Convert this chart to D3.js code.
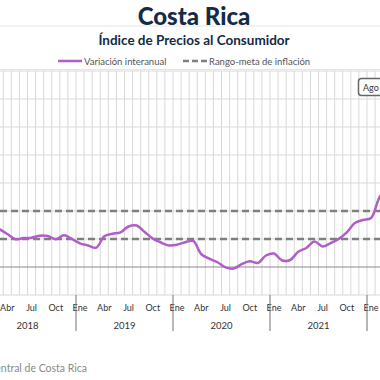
<!DOCTYPE html>
<html>
<head>
<meta charset="utf-8">
<script src="https://cdn.jsdelivr.net/npm/d3@7"></script>
<style>
  html, body { margin: 0; padding: 0; background: #fff; overflow: hidden; }
  svg { display: block; font-family: Lato, "Open Sans", sans-serif; }
</style>
</head>
<body>
<svg id="chart" width="380" height="380"></svg>
<script>
// ---- data ----
const monthNames = ["Ene","Feb","Mar","Abr","May","Jun","Jul","Ago","Sep","Oct","Nov","Dic"];
const years = [2018, 2019, 2020, 2021, 2022];
const tickMonths = ["Ene","Abr","Jul","Oct"];
const periods = [
  "Mar 2018","Abr 2018","May 2018","Jun 2018","Jul 2018","Ago 2018","Sep 2018","Oct 2018","Nov 2018","Dic 2018",
  "Ene 2019","Feb 2019","Mar 2019","Abr 2019","May 2019","Jun 2019","Jul 2019","Ago 2019","Sep 2019","Oct 2019","Nov 2019","Dic 2019",
  "Ene 2020","Feb 2020","Mar 2020","Abr 2020","May 2020","Jun 2020","Jul 2020","Ago 2020","Sep 2020","Oct 2020","Nov 2020","Dic 2020",
  "Ene 2021","Feb 2021","Mar 2021","Abr 2021","May 2021","Jun 2021","Jul 2021","Ago 2021","Sep 2021","Oct 2021","Nov 2021","Dic 2021",
  "Ene 2022","Feb 2022","Mar 2022"
];
const variacion = [
  2.71, 2.36, 1.98, 2.07, 2.09, 2.23, 2.21, 1.98, 2.26, 2.00,
  1.69, 1.54, 1.38, 2.19, 2.37, 2.48, 2.89, 2.96, 2.50, 2.03, 1.75, 1.54,
  1.59, 1.77, 1.86, 0.91, 0.59, 0.34, -0.03, -0.11, 0.20, 0.41, 0.29, 0.82,
  0.96, 0.46, 0.50, 1.09, 1.36, 1.82, 1.47, 1.70, 2.01, 2.48, 3.14, 3.36,
  3.50, 4.93, 5.77
];
const rangoMeta = [2, 4];
const yTicks = [-2, 0, 2, 4, 6, 8, 10, 12, 14];

// ---- layout ----
const svg = d3.select("#chart");
const allMonths = [];
years.forEach(y => monthNames.forEach(m => allMonths.push(m + " " + y)));
const monthW = 97 / 12;
const x = d3.scaleBand().domain(allMonths).range([-21, -21 + monthW * allMonths.length]).padding(0);
const y = d3.scaleLinear().domain([-2, 14]).range([295, 71]);
const cx = d => x(d) + x.bandwidth() / 2;
const visible = (px, half) => px + half > 0 && px - half < 380;

// separators
svg.append("line").attr("x1", 0).attr("x2", 380).attr("y1", 26).attr("y2", 26).attr("stroke", "#e6e6e6").attr("stroke-width", 1);
svg.append("line").attr("x1", 0).attr("x2", 380).attr("y1", 69.5).attr("y2", 69.5).attr("stroke", "#e6e6e6").attr("stroke-width", 1);

// title
svg.append("text").attr("x", 194).attr("y", 25).attr("text-anchor", "middle")
  .attr("font-size", 24).attr("font-weight", 900).attr("fill", "#142a46").text("Costa Rica");
svg.append("text").attr("x", 194).attr("y", 45).attr("text-anchor", "middle")
  .attr("font-size", 13.5).attr("font-weight", 700).attr("fill", "#142a46").text("Índice de Precios al Consumidor");

// legend
const lg = svg.append("g").attr("font-size", 9.5).attr("fill", "#555");
lg.append("line").attr("x1", 58).attr("x2", 82).attr("y1", 61).attr("y2", 61).attr("stroke", "#b05ec8").attr("stroke-width", 2.5);
lg.append("text").attr("x", 84).attr("y", 64.5).text("Variación interanual");
lg.append("line").attr("x1", 183).attr("x2", 207).attr("y1", 61).attr("y2", 61).attr("stroke", "#808080").attr("stroke-width", 2.5).attr("stroke-dasharray", "6,3");
lg.append("text").attr("x", 209).attr("y", 64.5).text("Rango-meta de inflación");

// vertical grid (month boundaries)
const grid = svg.append("g");
grid.selectAll("line.v").data(allMonths).join("line").attr("class", "v")
  .attr("x1", d => x(d)).attr("x2", d => x(d)).attr("y1", y(14)).attr("y2", y(-2))
  .attr("stroke", "#d9d9d9").attr("stroke-width", 1);
// horizontal grid
grid.selectAll("line.h").data(yTicks.filter(t => t !== 0)).join("line").attr("class", "h")
  .attr("x1", 0).attr("x2", 380).attr("y1", d => y(d)).attr("y2", d => y(d))
  .attr("stroke", "#d9d9d9").attr("stroke-width", 1);
// zero line
svg.append("line").attr("x1", 0).attr("x2", 380).attr("y1", y(0)).attr("y2", y(0))
  .attr("stroke", "#8c8c8c").attr("stroke-width", 1);

// target range dashed lines
svg.selectAll("line.meta").data(rangoMeta).join("line").attr("class", "meta")
  .attr("x1", 0).attr("x2", 380).attr("y1", d => y(d)).attr("y2", d => y(d))
  .attr("stroke", "#7f7f7f").attr("stroke-width", 2.5).attr("stroke-dasharray", "7,4");

// series line
const line = d3.line().x((d, i) => cx(periods[i])).y(d => y(d)).curve(d3.curveCatmullRom.alpha(0.5));
svg.append("path").datum(variacion).attr("d", line)
  .attr("fill", "none").attr("stroke", "#b05ec8").attr("stroke-width", 2.5).attr("stroke-linejoin", "round");

// x axis: month labels (only those that fall in view)
const tickData = allMonths.filter(d => tickMonths.includes(d.split(" ")[0]) && visible(cx(d), 8));
svg.append("g").attr("font-size", 9).attr("fill", "#333").attr("text-anchor", "middle")
  .selectAll("text").data(tickData).join("text")
  .attr("x", d => cx(d)).attr("y", 310.5).text(d => d.split(" ")[0]);
// year separators
svg.selectAll("line.ysep").data(years).join("line").attr("class", "ysep")
  .attr("x1", d => x("Ene " + d)).attr("x2", d => x("Ene " + d)).attr("y1", 295).attr("y2", 331)
  .attr("stroke", "#707070").attr("stroke-width", 1);
// year labels
svg.append("g").attr("font-size", 9.5).attr("fill", "#333").attr("text-anchor", "middle")
  .selectAll("text").data(years.filter(d => visible(x("Ene " + d) + monthW * 6, 12))).join("text")
  .attr("x", d => x("Ene " + d) + monthW * 6).attr("y", 329).text(d => d);

// tooltip-like box at top right
svg.append("rect").attr("x", 358.5).attr("y", 78.5).attr("width", 60).attr("height", 17).attr("rx", 3)
  .attr("fill", "#fff").attr("stroke", "#666").attr("stroke-width", 1.5);
svg.append("text").attr("x", 363).attr("y", 90.5).attr("font-size", 9).attr("fill", "#333").text("Ago 2022");

// source
svg.append("text").attr("x", 87).attr("y", 372).attr("text-anchor", "end").attr("font-size", 10.5)
  .attr("fill", "#8a8a8a").text("Fuente: Banco Central de Costa Rica");
</script>
</body>
</html>
